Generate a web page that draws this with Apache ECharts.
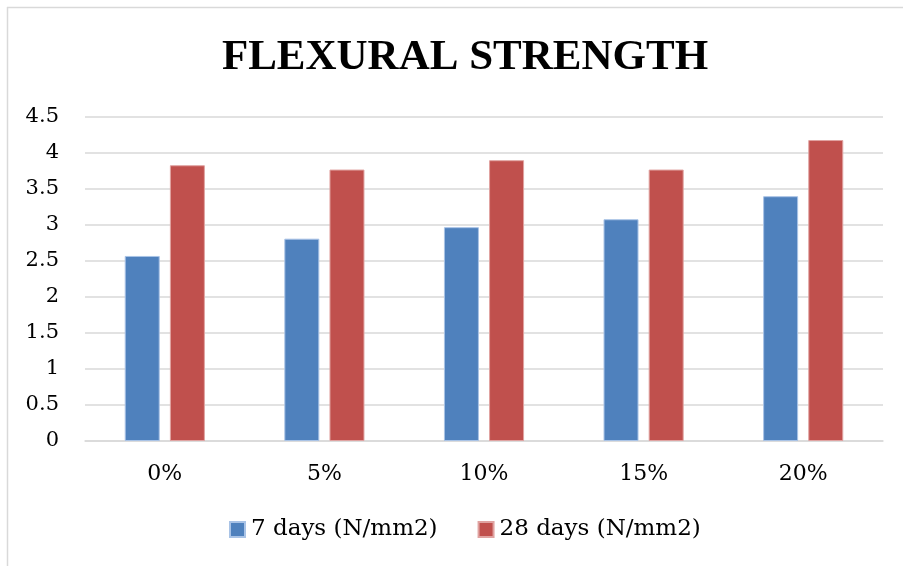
<!DOCTYPE html>
<html>
<head>
<meta charset="utf-8">
<script src="https://cdn.jsdelivr.net/npm/echarts@6/dist/echarts.min.js"></script>
<style>html,body{margin:0;padding:0;background:#fff}#c{width:903px;height:566px}</style>
</head>
<body>
<div id="c"></div>
<script>
const categories = ['0%', '5%', '10%', '15%', '20%'];
const days7 = [2.57, 2.81, 2.97, 3.08, 3.40];
const days28 = [3.83, 3.77, 3.90, 3.77, 4.18];
const seriesNames = ['7 days (N/mm2)', '28 days (N/mm2)'];
const yTicks = { min: 0, max: 4.5, interval: 0.5 };

const serif = '"DejaVu Serif", serif';
const titleFont = '"Liberation Serif", serif';
const chart = echarts.init(document.getElementById('c'), null, { renderer: 'canvas' });
chart.setOption({
  animation: false,
  backgroundColor: '#fff',
  title: {
    text: 'FLEXURAL STRENGTH',
    left: 460, top: 31, textAlign: 'center',
    textStyle: { fontFamily: titleFont, fontWeight: 'bold', fontSize: 43, color: '#000' }
  },
  legend: {
    data: seriesNames,
    bottom: 20, left: 224,
    itemWidth: 15, itemHeight: 15, itemGap: 40,
    icon: 'rect',
    textStyle: { fontFamily: serif, fontSize: 23, color: '#000', padding: [0, 0, 0, 1] }
  },
  grid: { left: 85, right: 20, top: 117, bottom: 125 },
  xAxis: {
    type: 'category', data: categories,
    axisLine: { lineStyle: { color: '#d9d9d9', width: 1.5 } },
    axisTick: { show: false },
    axisLabel: { fontFamily: serif, fontSize: 22, color: '#000', margin: 22 }
  },
  yAxis: {
    type: 'value', min: yTicks.min, max: yTicks.max, interval: yTicks.interval,
    axisLine: { show: false }, axisTick: { show: false },
    splitLine: { lineStyle: { color: '#d9d9d9', width: 1.5 } },
    axisLabel: { fontFamily: serif, fontSize: 21, color: '#000', margin: 26, formatter: v => String(v) }
  },
  series: [
    { name: seriesNames[0], type: 'bar', data: days7, barWidth: 35, barGap: '29%',
      itemStyle: { color: '#4f81bd', borderColor: '#a9c3e6', borderWidth: 1 } },
    { name: seriesNames[1], type: 'bar', data: days28, barWidth: 35,
      itemStyle: { color: '#c0504d', borderColor: '#e0a3a1', borderWidth: 1 } }
  ],
  graphic: [
    { type: 'line', shape: { x1: 7.5, y1: 7, x2: 7.5, y2: 566 }, style: { stroke: '#d9d9d9', lineWidth: 1.5 } },
    { type: 'line', shape: { x1: 7, y1: 7.5, x2: 903, y2: 7.5 }, style: { stroke: '#d9d9d9', lineWidth: 1.5 } }
  ]
});
</script>
</body>
</html>
